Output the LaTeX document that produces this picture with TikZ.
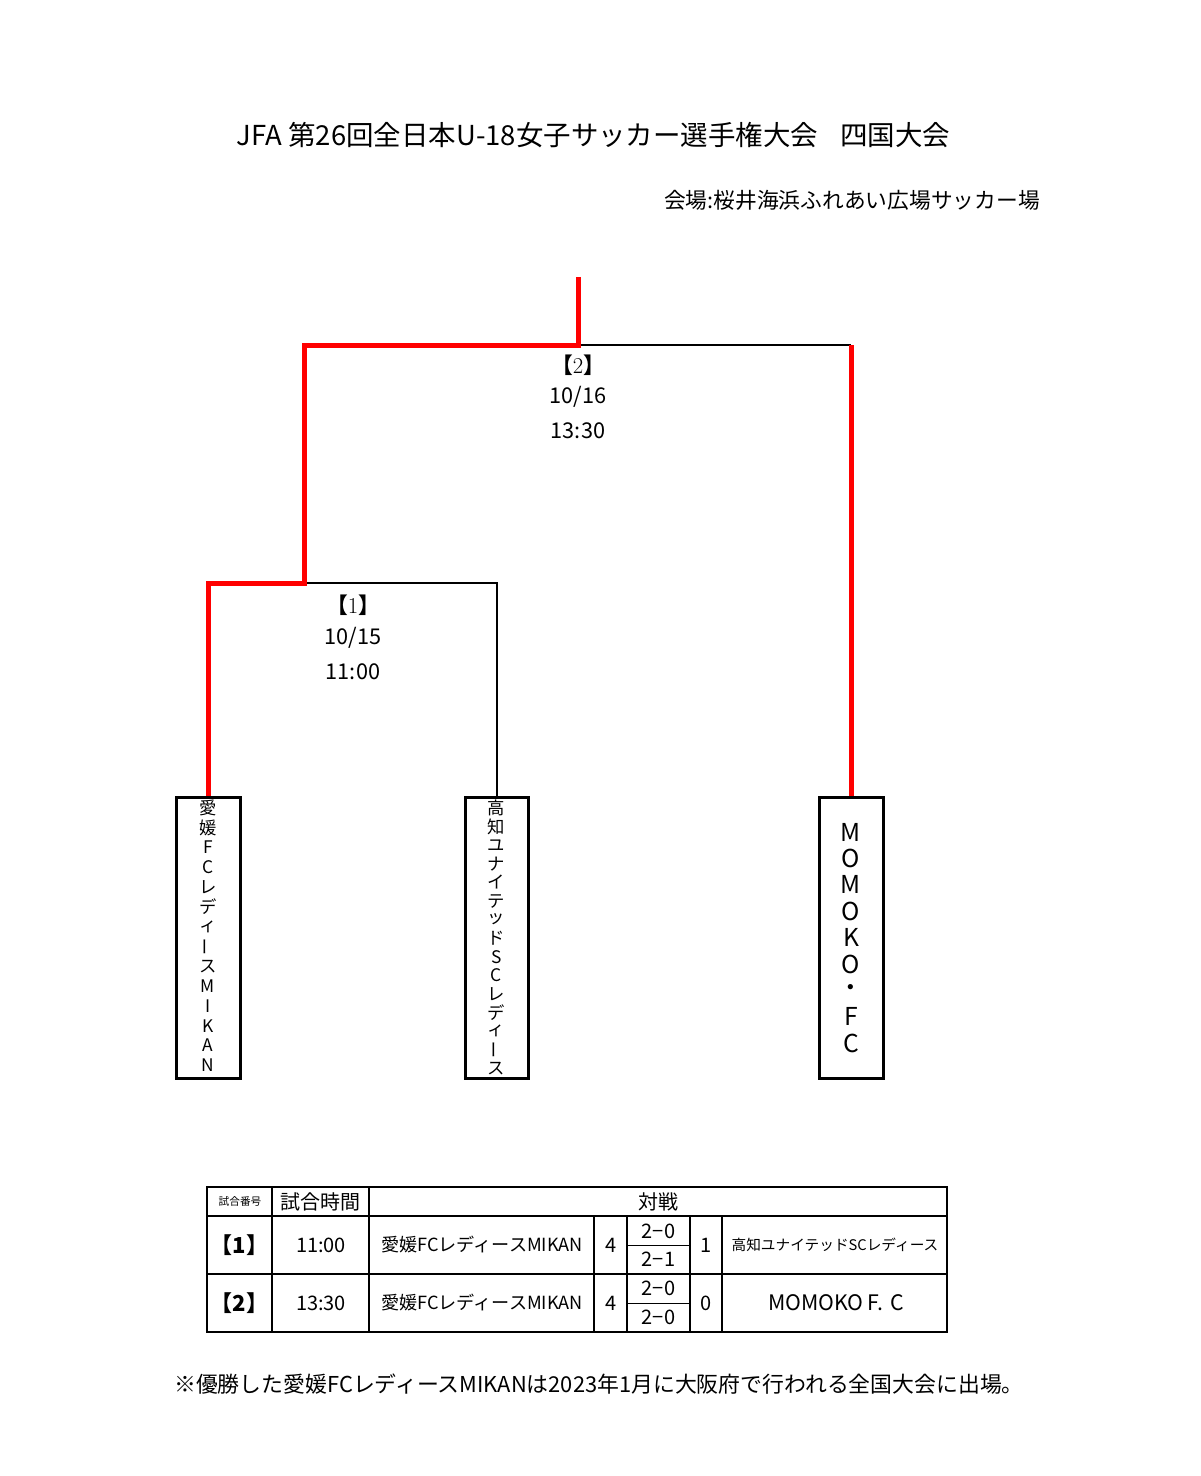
\documentclass[tikz,border=0pt]{standalone}
\usepackage{fontspec}
\usepackage{graphicx}
\newfontfamily\jp{Noto Sans CJK JP}
\newcommand{\setfs}[1]{\fontsize{#1}{#1}\selectfont}
\definecolor{winred}{RGB}{255,0,0}
\tikzset{
  base/.style={font=\jp, inner sep=0pt, text=black},
  teambox/.style={draw=black, line width=2.25pt, minimum width=48pt, minimum height=210.75pt, inner sep=0pt},
  winline/.style={draw=winred, line width=3.75pt, line join=miter},
  loseline/.style={draw=black, line width=1.5pt},
  vch/.style={base, font=\jp\setfs{13pt}},
  vchbig/.style={base, font=\jp\setfs{18.5pt}},
  lbl/.style={base, font=\jp\setfs{16.3pt}},
  tabouter/.style={draw=black, line width=2pt},
  tabinner/.style={draw=black, line width=1.4pt},
  tabthin/.style={draw=black, line width=0.7pt},
  cellbig/.style={base, font=\jp\setfs{15pt}},
  cellmid/.style={base, font=\jp\setfs{13.6pt}},
  cellsmall/.style={base, font=\jp\setfs{11pt}},
}
\begin{document}
\begin{tikzpicture}[x=0.75pt,y=-0.75pt]
\fill[white] (0,0) rectangle (1200,1476);
\useasboundingbox (0,0) rectangle (1200,1476);

% titles
\node[base, font=\jp\setfs{20.6pt}] (title) at (593.5,135) {JFA 第26回全日本U-18女子サッカー選手権大会\hspace{0.8em}四国大会};
\node[base, font=\jp\setfs{16.3pt}, anchor=east] (venue) at (1040,200) {会場:桜井海浜ふれあい広場サッカー場};

% team boxes
\node[teambox] (t1) at (208,937.5) {};
\node[teambox, minimum width=47.25pt] (t2) at (496.5,937.5) {};
\node[teambox] (t3) at (851,937.5) {};

\foreach \c [count=\i from 0] in {愛,媛,F,C,レ,デ,ィ,{\rotatebox{90}{ー}},ス,M,I,K,A,N}
  \node[vch] (a\i) at (208,{808+\i*19.8}) {\c};
\foreach \c [count=\i from 0] in {高,知,ユ,ナ,イ,テ,ッ,ド,S,C,レ,デ,ィ,{\rotatebox{90}{ー}},ス}
  \node[vch] (b\i) at (496.5,{808+\i*18.6}) {\c};
\foreach \c [count=\i from 0] in {M,O,M,O,K,O,・,F,C}
  \node[vchbig] (m\i) at (851,{832+\i*26.4}) {\c};

% bracket
\coordinate (top) at (578,277);
\coordinate (j2) at (578,345);
\coordinate (j1) at (304,583);
\coordinate (c3) at (851,345);
\draw[loseline] (j2) -- (c3);
\draw[loseline] (j1) -| (t2.north);
\draw[winline] (top) -- (j2) -| (j1) -| (t1.north);
\draw[winline] (c3) -- (t3.north);

% match labels
\node[lbl] (g2) at (578,365) {\textbf{【}{\rmfamily\setfs{17pt}2}\textbf{】}};
\node[lbl] (d2) at (578,397) {10/16};
\node[lbl] (h2) at (578,431) {13:30};
\node[lbl] (g1) at (353,605) {\textbf{【}{\rmfamily\setfs{17pt}1}\textbf{】}};
\node[lbl] (d1) at (353,638) {10/15};
\node[lbl] (h1) at (353,672) {11:00};

% table
\draw[tabinner] (207,1216) -- (947,1216);
\draw[tabinner] (207,1274) -- (947,1274);
\draw[tabinner] (272,1187) -- (272,1332);
\draw[tabinner] (369,1187) -- (369,1332);
\foreach \xx in {594,627,690,722}
  \draw[tabinner] (\xx,1216) -- (\xx,1332);
\draw[tabthin] (627,1245) -- (690,1245);
\draw[tabthin] (627,1303) -- (690,1303);
\draw[tabouter] (207,1187) rectangle (947,1332);

\node[base, font=\jp\setfs{8pt}] (hn) at (240,1201.5) {試合番号};
\node[cellbig] (ht) at (320.5,1201.5) {試合時間};
\node[cellbig] (hv) at (658,1201.5) {対戦};

\node[cellbig, font=\jp\bfseries\setfs{16.5pt}] (r1n) at (239.5,1245) {【1】};
\node[cellbig] (r1t) at (321,1245) {11:00};
\node[cellmid] (r1a) at (482,1245) {愛媛FCレディースMIKAN};
\node[cellbig] (r1s) at (611,1245) {4};
\node[cellbig] (r1p) at (658.5,1231) {2−0};
\node[cellbig] (r1q) at (658.5,1259.5) {2−1};
\node[cellbig] (r1o) at (706.5,1245) {1};
\node[cellsmall] (r1b) at (835,1245) {高知ユナイテッドSCレディース};

\node[cellbig, font=\jp\bfseries\setfs{16.5pt}] (r2n) at (239.5,1303) {【2】};
\node[cellbig] (r2t) at (321,1303) {13:30};
\node[cellmid] (r2a) at (482,1303) {愛媛FCレディースMIKAN};
\node[cellbig] (r2s) at (611,1303) {4};
\node[cellbig] (r2p) at (658.5,1288.5) {2−0};
\node[cellbig] (r2q) at (658.5,1317) {2−0};
\node[cellbig] (r2o) at (706.5,1303) {0};
\node[base, font=\jp\setfs{16pt}] (r2b) at (836,1303) {MOMOKO\,F.\,\,C};

% note
\node[base, font=\jp\setfs{16.4pt}] (note) at (599,1384) {※優勝した愛媛FCレディースMIKANは2023年1月に大阪府で行われる全国大会に出場。};
\end{tikzpicture}
\end{document}
